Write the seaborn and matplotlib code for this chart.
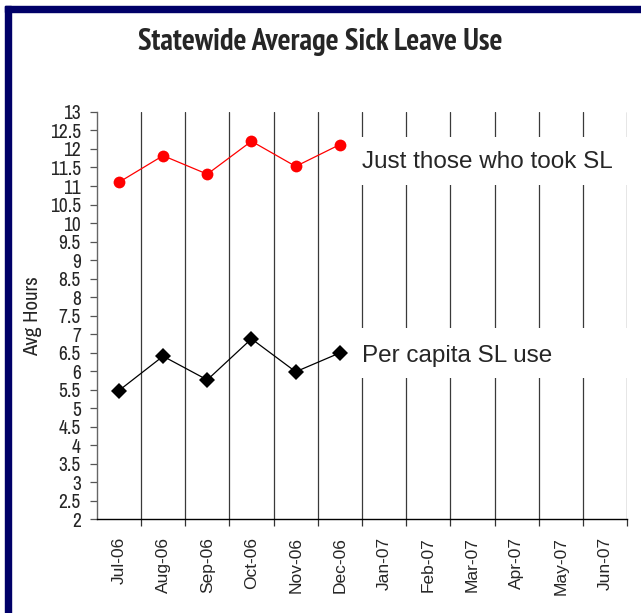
import matplotlib
matplotlib.use("Agg")
import matplotlib.pyplot as plt
from matplotlib.patches import Rectangle
import numpy as np
import pandas as pd
import seaborn as sns

# Data
months = ["Jul-06", "Aug-06", "Sep-06", "Oct-06", "Nov-06", "Dec-06",
          "Jan-07", "Feb-07", "Mar-07", "Apr-07", "May-07", "Jun-07"]
took_sl = [11.1, 11.82, 11.32, 12.21, 11.53, 12.12]
per_capita = [5.47, 6.4, 5.76, 6.87, 5.98, 6.49]
y_ticks = np.arange(2, 13.01, 0.5)
y_tick_labels = [f"{v:g}" for v in y_ticks]

df = pd.DataFrame({
    "pos": np.arange(len(took_sl)),
    "month": months[:len(took_sl)],
    "took": took_sl,
    "per_capita": per_capita,
})

sns.set_theme(style="white")
narrow = ["Archivo Narrow", "PT Sans Narrow", "Liberation Sans", "DejaVu Sans"]
narrow_bold = ["PT Sans Narrow", "Liberation Sans", "DejaVu Sans"]
regular = ["Liberation Sans", "DejaVu Sans"]
plt.rcParams["font.family"] = regular

fig = plt.figure(figsize=(6.41, 6.13), dpi=100)
ax = fig.add_axes([0.1509, 0.1533, 0.9786 - 0.1509, 0.8173 - 0.1533])

# vertical gridlines between months
for b in np.arange(len(months)) + 0.5:
    ax.plot([b, b], [2, 13], color="#3a3a3a", lw=0.9, zorder=1)

sns.lineplot(data=df, x="pos", y="took", ax=ax, color="#ff0000", lw=0.9,
             marker="o", markersize=8.5, markeredgewidth=0, zorder=3)
sns.lineplot(data=df, x="pos", y="per_capita", ax=ax, color="black", lw=0.9,
             marker="D", markersize=8, markeredgewidth=0, zorder=3)

ax.set_xlim(-0.5, len(months) - 0.5)
ax.set_ylim(2, 13)

# x ticks: labels at month centres, tick marks at boundaries
ax.set_xticks(np.arange(len(months)))
ax.set_xticklabels(months, rotation=90, fontsize=12.5, family=regular)
ax.set_xticks(np.arange(len(months)) + 0.5, minor=True)
ax.tick_params(axis="x", which="major", length=0, pad=13)
ax.tick_params(axis="x", which="minor", length=5, width=0.9, color="#333333",
               direction="out", bottom=True)

ax.set_yticks(y_ticks)
ax.set_yticklabels(y_tick_labels, fontsize=14, family=narrow)
ax.tick_params(axis="y", length=5, width=0.9, color="#555555", pad=6.5,
               direction="out", left=True)

ax.set_xlabel("")
ax.set_ylabel("")
for side in ["top", "right"]:
    ax.spines[side].set_visible(False)
ax.spines["left"].set_color("#666666")
ax.spines["left"].set_linewidth(1.0)
ax.spines["bottom"].set_color("black")
ax.spines["bottom"].set_linewidth(1.0)

# series labels on white boxes
for y0, y1, ytxt, label in [(11.02, 12.32, 11.64, "Just those who took SL"),
                            (5.82, 7.15, 6.41, "Per capita SL use")]:
    ax.add_patch(Rectangle((5.33, y0), 7.0, y1 - y0, facecolor="white",
                           edgecolor="none", zorder=4, clip_on=False))
    ax.text(5.49, ytxt, label, fontsize=17.5, va="center", ha="left",
            family=regular, zorder=5)

fig.text(0.499, 0.932, "Statewide Average Sick Leave Use", ha="center",
         va="center", fontsize=22, fontweight="bold", family=narrow_bold)
fig.text(0.051, 0.4845, "Avg Hours", rotation=90, ha="center", va="center",
         fontsize=15, family=narrow)

# navy frame along the top and left edges
navy = "#000068"
fig.add_artist(Rectangle((5 / 641, 0), 6 / 641, 1 - 6 / 613,
                         transform=fig.transFigure, color=navy))
fig.add_artist(Rectangle((5 / 641, 1 - 12 / 613), 1, 6 / 613,
                         transform=fig.transFigure, color=navy))

fig.savefig("out.png", dpi=100)
